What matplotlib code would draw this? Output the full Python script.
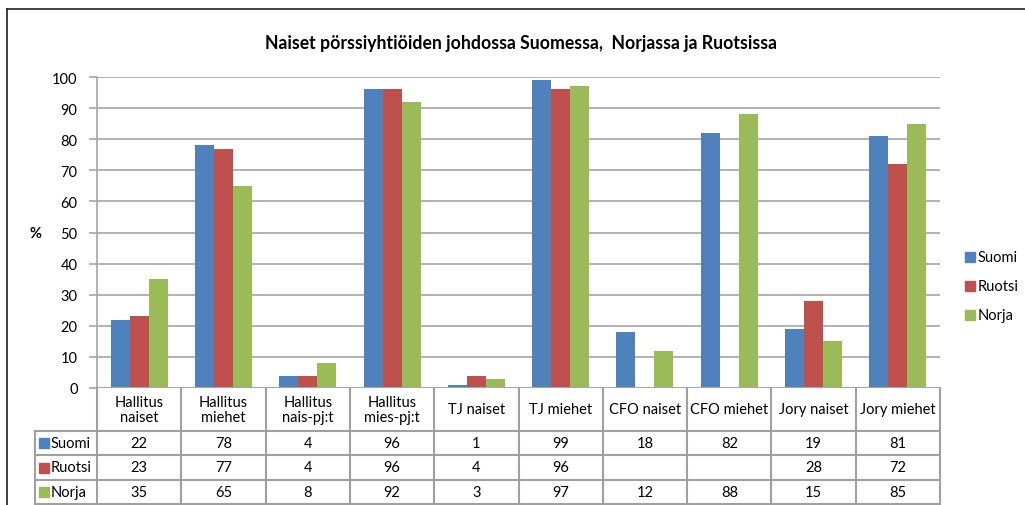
import numpy as np
import matplotlib.pyplot as plt
from matplotlib.patches import Rectangle

plt.rcParams['font.family'] = ['Lato', 'DejaVu Sans']

categories = ['Hallitus\nnaiset', 'Hallitus\nmiehet', 'Hallitus\nnais-pj:t', 'Hallitus\nmies-pj:t',
              'TJ naiset', 'TJ miehet', 'CFO naiset', 'CFO miehet', 'Jory naiset', 'Jory miehet']
series = ['Suomi', 'Ruotsi', 'Norja']
suomi = [22, 78, 4, 96, 1, 99, 18, 82, 19, 81]
ruotsi = [23, 77, 4, 96, 4, 96, None, None, 28, 72]
norja = [35, 65, 8, 92, 3, 97, 12, 88, 15, 85]
colors = ['#4F81BD', '#C0504D', '#9BBB59']
yticks = list(range(0, 101, 10))

W, H = 1025, 506
fig = plt.figure(figsize=(W / 100, H / 100), dpi=100)


def fbox(x0, y0, x1, y1):
    return [x0 / W, 1 - y1 / H, (x1 - x0) / W, (y1 - y0) / H]


# chart frame
fig.add_artist(plt.Line2D([7 / W, 7 / W], [0, 1 - 10 / H], color='#202020', lw=1.2))
fig.add_artist(plt.Line2D([7 / W, 1], [1 - 10 / H, 1 - 10 / H], color='#202020', lw=1.2))

grid_c = '#A6A6A6'
ax = fig.add_axes(fbox(97, 78, 940, 389))
x = np.arange(len(categories))
bw = 0.225
for i, (vals, c) in enumerate(zip([suomi, ruotsi, norja], colors)):
    v = [np.nan if a is None else a for a in vals]
    ax.bar(x + 0.5 + (i - 1) * bw, v, width=bw, color=c, zorder=3)
ax.set_xlim(0, 10)
ax.set_ylim(0, 100)
ax.set_yticks(yticks)
ax.set_yticklabels([str(t) for t in yticks], fontsize=10.5)
ax.set_xticks([])
ax.grid(axis='y', color=grid_c, lw=1.2, zorder=0)
for s in ['top', 'right', 'bottom']:
    ax.spines[s].set_visible(False)
ax.spines['left'].set_color(grid_c)
ax.spines['left'].set_linewidth(1.2)
ax.tick_params(axis='y', length=6, color=grid_c, width=1.2, pad=8)
ax.axhline(0, color=grid_c, lw=1.5, zorder=4)

fig.text(521 / W, 1 - 44 / H, 'Naiset pörssiyhtiöiden johdossa Suomessa,  Norjassa ja Ruotsissa',
         ha='center', va='center', fontsize=12.7, fontweight='bold')
fig.text(35 / W, 1 - 234 / H, '%', ha='center', va='center', fontsize=10.5, fontweight='bold')

# legend
for j, (name, c) in enumerate(zip(series, colors)):
    yy = 258 + j * 29
    fig.add_artist(Rectangle((965 / W, 1 - (yy + 5) / H), 10 / W, 10 / H, color=c,
                             transform=fig.transFigure))
    fig.text(978 / W, 1 - yy / H, name, ha='left', va='center', fontsize=10.5)

# data table
lab_w = 62 / 84.3
tx = fig.add_axes(fbox(35, 389, 940, 505))
tx.set_xlim(-lab_w, 10)
tx.set_ylim(116, 0)
tx.axis('off')
rows_y = [0, 43, 67, 92, 116]
lc = '#A0A0A0'
for k in range(11):
    tx.plot([k, k], [0, 116], color=lc, lw=1.5, clip_on=False)
tx.plot([-lab_w, -lab_w], [43, 116], color=lc, lw=1.5, clip_on=False)
for r in rows_y[1:]:
    tx.plot([-lab_w, 10], [r, r], color=lc, lw=1.5, clip_on=False)
for k, cat in enumerate(categories):
    tx.text(k + 0.5, 21.5, cat, ha='center', va='center', fontsize=10.5, linespacing=1.15)
for j, (name, vals, c) in enumerate(zip(series, [suomi, ruotsi, norja], colors)):
    yc = (rows_y[j + 1] + rows_y[j + 2]) / 2
    tx.add_patch(Rectangle((-lab_w + 4 / 84.3, yc - 5), 10 / 84.3, 10, color=c, clip_on=False))
    tx.text(-lab_w + 16 / 84.3, yc, name, ha='left', va='center', fontsize=10.5)
    for k, v in enumerate(vals):
        if v is not None:
            tx.text(k + 0.5, yc, str(v), ha='center', va='center', fontsize=10.5)

fig.savefig('out.png', dpi=100)
